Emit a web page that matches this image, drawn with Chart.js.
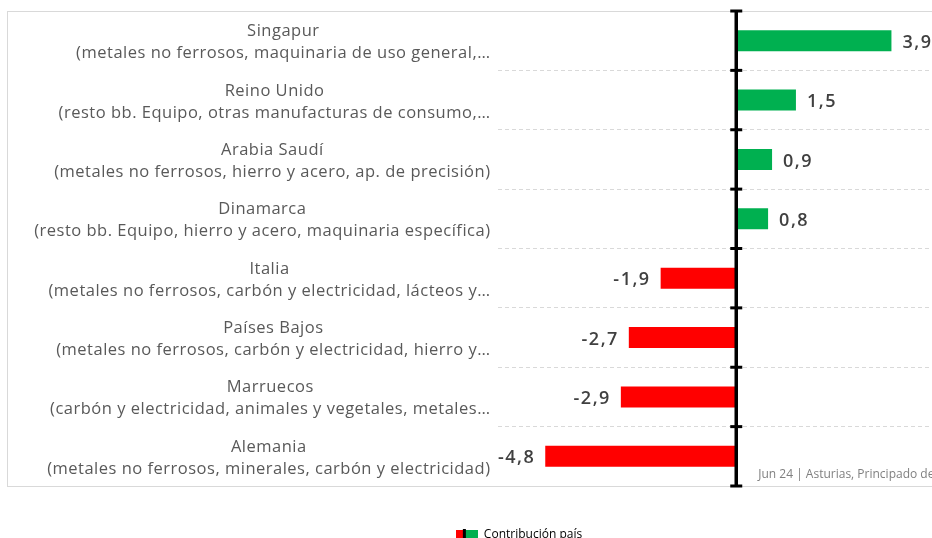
<!DOCTYPE html>
<html>
<head>
<meta charset="utf-8">
<script src="https://cdn.jsdelivr.net/npm/chart.js@4"></script>
<style>
  html, body { margin: 0; padding: 0; background: #fff; overflow: hidden; }
  #frame { position: absolute; left: 7px; top: 11px; width: 1000px; height: 474px; border: 1px solid #d9d9d9; pointer-events: none; }
  #myChart { position: absolute; left: 0; top: 0; }
</style>
</head>
<body>
<div id="frame"></div>
<canvas id="myChart" width="975" height="551"></canvas>
<script>
const paises = ['Singapur', 'Reino Unido', 'Arabia Saudí', 'Dinamarca', 'Italia', 'Países Bajos', 'Marruecos', 'Alemania']
const productos = [
  '(metales no ferrosos, maquinaria de uso general,…',
  '(resto bb. Equipo, otras manufacturas de consumo,…',
  '(metales no ferrosos, hierro y acero, ap. de precisión)',
  '(resto bb. Equipo, hierro y acero, maquinaria específica)',
  '(metales no ferrosos, carbón y electricidad, lácteos y…',
  '(metales no ferrosos, carbón y electricidad, hierro y…',
  '(carbón y electricidad, animales y vegetales, metales…',
  '(metales no ferrosos, minerales, carbón y electricidad)'
]
const contribucion = [3.9, 1.5, 0.9, 0.8, -1.9, -2.7, -2.9, -4.8]
const fuente = 'Jun 24 | Asturias, Principado de'

const verde = '#00B050'
const rojo = '#FF0000'

Chart.defaults.font.family = '"Open Sans"';

// icono de la leyenda: rojo | negro | verde
const icono = document.createElement('canvas');
icono.width = 22; icono.height = 12;
const ic = icono.getContext('2d');
ic.fillStyle = rojo; ic.fillRect(0, 1, 8, 10);
ic.fillStyle = verde; ic.fillRect(10, 1, 12, 10);
ic.fillStyle = '#000'; ic.fillRect(7, 0, 3, 12);

const etiquetas = {
  id: 'etiquetas',
  afterDatasetsDraw(chart) {
    const ctx = chart.ctx;
    const x = chart.scales.x, y = chart.scales.y, area = chart.chartArea;
    ctx.save();
    // linea del cero con marcas
    const x0 = x.getPixelForValue(0);
    ctx.strokeStyle = '#000';
    ctx.lineWidth = 3.5;
    ctx.beginPath();
    ctx.moveTo(x0, area.top + 1);
    ctx.lineTo(x0, area.bottom);
    ctx.stroke();
    ctx.lineWidth = 3;
    for (let i = 0; i <= paises.length; i++) {
      const yy = y.getPixelForValue(i - 0.5);
      ctx.beginPath();
      ctx.moveTo(x0 - 6, yy);
      ctx.lineTo(x0 + 6, yy);
      ctx.stroke();
    }
    // valores
    ctx.font = '600 18px "Open Sans"';
    ctx.letterSpacing = '1.5px';
    ctx.fillStyle = '#404040';
    ctx.textBaseline = 'middle';
    chart.getDatasetMeta(0).data.forEach((bar, i) => {
      const v = contribucion[i];
      const txt = v.toFixed(1).replace('.', ',');
      if (v >= 0) { ctx.textAlign = 'left'; ctx.fillText(txt, bar.x + 11, bar.y + 2); }
      else { ctx.textAlign = 'right'; ctx.fillText(txt, bar.x - 10, bar.y + 2); }
    });
    // categorias en dos lineas
    ctx.font = '16.5px "Open Sans"';
    ctx.letterSpacing = '0.5px';
    ctx.fillStyle = '#595959';
    ctx.textBaseline = 'alphabetic';
    const derecha = area.left - 7;
    paises.forEach((p, i) => {
      const yy = y.getPixelForValue(i);
      const w2 = ctx.measureText(productos[i]).width;
      ctx.textAlign = 'right';
      ctx.fillText(productos[i], derecha, yy + 17.5);
      ctx.textAlign = 'center';
      ctx.fillText(p, derecha - w2 / 2, yy - 4.5);
    });
    // fuente
    ctx.font = '12px "Open Sans"';
    ctx.letterSpacing = '0px';
    ctx.fillStyle = '#808080';
    ctx.textAlign = 'left';
    ctx.textBaseline = 'middle';
    ctx.fillText(fuente, x0 + 22, area.bottom - 11);
    ctx.restore();
  }
};

new Chart(document.getElementById('myChart'), {
  type: 'bar',
  data: {
    labels: paises,
    datasets: [{
      label: 'Contribución país',
      data: contribucion,
      backgroundColor: contribucion.map(v => v >= 0 ? verde : rojo),
      barPercentage: 0.355,
      categoryPercentage: 1
    }]
  },
  options: {
    indexAxis: 'y',
    responsive: false,
    animation: false,
    layout: { padding: { top: 11, left: 63, right: 0, bottom: 0 } },
    scales: {
      x: { display: false, min: -6, max: 6 },
      y: {
        ticks: { display: false },
        grid: { color: '#d9d9d9', lineWidth: 1, drawTicks: false },
        border: { display: false, dash: [4, 3] },
        afterFit(scale) { scale.width = 434.5; }
      }
    },
    plugins: {
      tooltip: { enabled: false },
      legend: {
        position: 'bottom',
        labels: {
          usePointStyle: true,
          pointStyleWidth: 22,
          padding: 43,
          color: '#404040',
          font: { size: 12 },
          generateLabels: () => [{
            text: 'Contribución país',
            pointStyle: icono,
            fillStyle: verde,
            strokeStyle: verde,
            lineWidth: 0,
            hidden: false,
            datasetIndex: 0
          }]
        }
      }
    }
  },
  plugins: [etiquetas]
});
</script>
</body>
</html>
